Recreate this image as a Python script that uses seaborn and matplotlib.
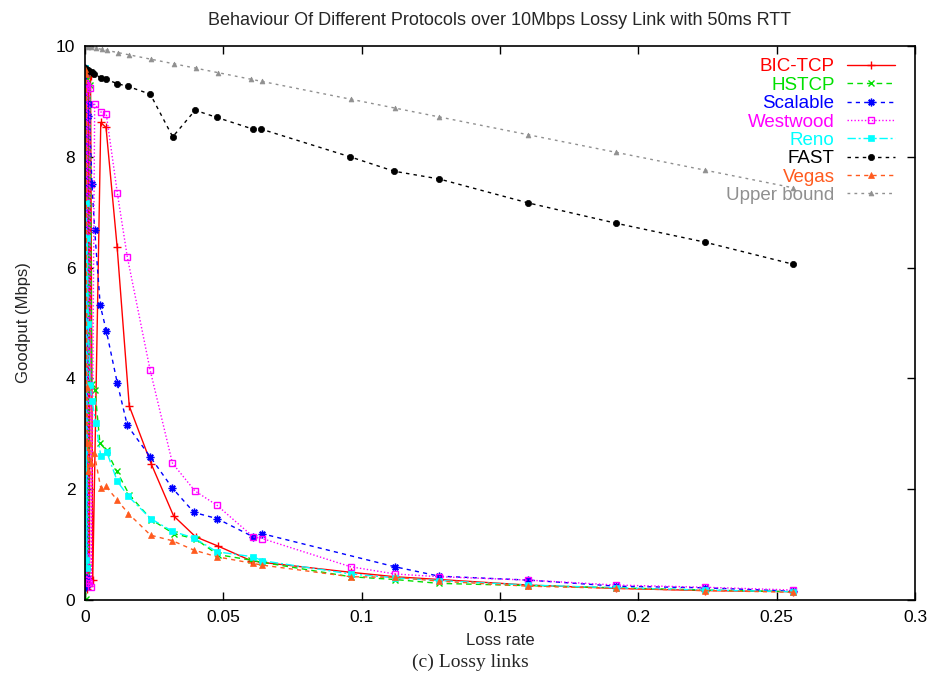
import matplotlib
matplotlib.use("Agg")
import matplotlib.pyplot as plt
import seaborn as sns
import pandas as pd

# ---------------- data ----------------
bic_x = [0, 0.0002, 0.0004, 0.0006, 0.0008, 0.001, 0.0013, 0.0016, 0.002, 0.0028, 0.0057, 0.0076,
         0.0116, 0.016, 0.024, 0.032, 0.04, 0.048, 0.06, 0.064, 0.096, 0.112, 0.128, 0.16, 0.192,
         0.224, 0.256]
bic_y = [9.6, 0.3, 9.58, 0.2, 9.55, 0.4, 9.5, 0.25, 9.45, 0.36, 8.62, 8.53,
         6.38, 3.5, 2.45, 1.52, 1.14, 0.975, 0.71, 0.68, 0.5, 0.42, 0.37, 0.27, 0.21,
         0.17, 0.15]

hstcp_x = [0, 0.0002, 0.0004, 0.0006, 0.0009, 0.0012, 0.0018, 0.0024, 0.0036, 0.0054, 0.0078, 0.0114,
           0.016, 0.024, 0.032, 0.04, 0.048, 0.06, 0.064, 0.096, 0.112, 0.128, 0.16, 0.192, 0.224, 0.256]
hstcp_y = [9.6, 0.02, 9.5, 0.45, 9.4, 0.6, 9.3, 3.9, 3.79, 2.83, 2.7, 2.33,
           1.9, 1.45, 1.2, 1.1, 0.82, 0.72, 0.68, 0.42, 0.37, 0.3, 0.26, 0.22, 0.18, 0.15]

scal_x = [0, 0.0002, 0.0004, 0.0006, 0.001, 0.0015, 0.0025, 0.0035, 0.0055, 0.0077, 0.0117, 0.0153,
          0.0235, 0.0316, 0.0394, 0.0477, 0.0608, 0.0638, 0.112, 0.128, 0.16, 0.192, 0.224, 0.256]
scal_y = [9.6, 0.24, 9.5, 0.4, 8.73, 8.95, 7.51, 6.68, 5.32, 4.86, 3.91, 3.15,
          2.59, 2.02, 1.58, 1.47, 1.14, 1.2, 0.6, 0.43, 0.36, 0.25, 0.22, 0.16]

west_x = [0, 0.0002, 0.0004, 0.0006, 0.0009, 0.0013, 0.0017, 0.0023, 0.0035, 0.0057, 0.0077, 0.0117,
          0.0153, 0.0235, 0.0316, 0.0397, 0.0477, 0.0608, 0.064, 0.096, 0.112, 0.128, 0.16, 0.192,
          0.224, 0.256]
west_y = [9.34, 0.78, 9.3, 0.36, 9.28, 0.3, 9.25, 0.24, 8.95, 8.81, 8.77, 7.34,
          6.19, 4.16, 2.47, 1.97, 1.71, 1.14, 1.11, 0.6, 0.47, 0.42, 0.36, 0.27,
          0.23, 0.18]

reno_x = [0, 0.0002, 0.0004, 0.0006, 0.0008, 0.0012, 0.0018, 0.0026, 0.0039, 0.0057, 0.0078,
          0.0117, 0.0157, 0.0237, 0.0316, 0.0394, 0.0477, 0.0608, 0.064, 0.096, 0.112, 0.128,
          0.16, 0.192, 0.224, 0.256]
reno_y = [9.6, 0.72, 7.16, 0.57, 6.53, 4.98, 3.88, 3.59, 3.19, 2.6, 2.68,
          2.14, 1.87, 1.47, 1.24, 1.12, 0.87, 0.78, 0.71, 0.47, 0.4, 0.35,
          0.27, 0.22, 0.18, 0.15]

fast_x = [0, 0.0005, 0.001, 0.0015, 0.0024, 0.0033, 0.0057, 0.0076, 0.0117, 0.0156, 0.0236,
          0.0317, 0.0398, 0.0477, 0.0607, 0.0637, 0.0958, 0.1117, 0.128, 0.16, 0.192, 0.224, 0.256]
fast_y = [9.6, 9.58, 9.57, 9.55, 9.53, 9.49, 9.43, 9.40, 9.32, 9.27, 9.13,
          8.36, 8.84, 8.71, 8.50, 8.50, 8.0, 7.74, 7.6, 7.17, 6.8, 6.46, 6.06]

vegas_x = [0, 0.0002, 0.0004, 0.0006, 0.001, 0.0015, 0.002, 0.0033, 0.0057, 0.0076, 0.0117, 0.0157,
           0.0237, 0.0316, 0.0394, 0.0477, 0.0608, 0.064, 0.096, 0.112, 0.128, 0.16, 0.192,
           0.224, 0.256]
vegas_y = [9.58, 2.83, 9.5, 3.84, 2.33, 2.83, 2.47, 2.66, 2.02, 2.05, 1.8, 1.56,
           1.17, 1.07, 0.9, 0.78, 0.66, 0.63, 0.42, 0.41, 0.34, 0.25, 0.21,
           0.17, 0.14]

upper_x = [0, 0.001, 0.002, 0.004, 0.006, 0.008, 0.012, 0.016, 0.024, 0.032, 0.04, 0.048,
           0.06, 0.064, 0.096, 0.112, 0.128, 0.16, 0.192, 0.224, 0.256]
upper_y = [10, 9.99, 9.98, 9.96, 9.94, 9.92, 9.88, 9.84, 9.76, 9.68, 9.6, 9.52,
           9.4, 9.36, 9.04, 8.88, 8.72, 8.4, 8.08, 7.76, 7.44]

x_ticks = [0, 0.05, 0.1, 0.15, 0.2, 0.25, 0.3]
x_tick_labels = ["0", "0.05", "0.1", "0.15", "0.2", "0.25", "0.3"]
y_ticks = [0, 2, 4, 6, 8, 10]
y_tick_labels = ["0", "2", "4", "6", "8", "10"]

title = "Behaviour Of Different Protocols over 10Mbps Lossy Link with 50ms RTT"
x_label = "Loss rate"
y_label = "Goodput (Mbps)"
caption = "(c) Lossy links"

# ---------------- styling ----------------
sns.set_style("ticks")
plt.rcParams["font.family"] = ["Liberation Sans", "DejaVu Sans"]


def style(color, ls, marker, ms, mew=1.0, filled=False, face=None):
    return dict(color=color, linestyle=ls, marker=marker, markersize=ms,
                markeredgewidth=mew, markeredgecolor=color,
                markerfacecolor=(face if face is not None else (color if filled else "none")))


series = [
    ("BIC-TCP", bic_x, bic_y, style("#FF0000", "-", "+", 6, 1.0)),
    ("HSTCP", hstcp_x, hstcp_y, style("#00E000", (0, (4, 3)), "x", 4.5, 1.0)),
    ("Scalable", scal_x, scal_y, style("#0000FF", (0, (3, 3)), (8, 2, 0), 5.5, 1.0)),
    ("Westwood", west_x, west_y, style("#FF00FF", (0, (1, 1.5)), "s", 5, 1.0)),
    ("Reno", reno_x, reno_y, style("#00FFFF", (0, (6, 2, 1.5, 2)), "s", 5, 0.5, filled=True)),
    ("FAST", fast_x, fast_y, style("#000000", (0, (2.5, 3)), "o", 4.5, 0.5, filled=True)),
    ("Vegas", vegas_x, vegas_y, style("#FF5A1E", (0, (3, 3)), "^", 5, 0.5, filled=True)),
    ("Upper bound", upper_x, upper_y, style("#909090", (0, (2, 3)), "^", 3.5, 0.5, filled=True)),
]

fig = plt.figure(figsize=(9.35, 6.79), dpi=100)
ax = fig.add_axes([85 / 935, 1 - 600 / 679, 830 / 935, 554 / 679])

for name, xs, ys, st in series:
    df = pd.DataFrame({"x": xs, "y": ys})
    sns.lineplot(data=df, x="x", y="y", ax=ax, sort=False, estimator=None,
                 label=name, linewidth=1.0, **st)

ax.set_xlim(0, 0.3)
ax.set_ylim(0, 10)
ax.set_xticks(x_ticks)
ax.set_xticklabels(x_tick_labels)
ax.set_yticks(y_ticks)
ax.set_yticklabels(y_tick_labels)
ax.tick_params(direction="in", length=6, width=1.0, top=True, right=True,
               labelsize=12.5, colors="black", pad=7)
for sp in ax.spines.values():
    sp.set_visible(True)
    sp.set_color("black")
    sp.set_linewidth(1.2)

ax.set_xlabel(x_label, fontsize=12, labelpad=6)
ax.set_ylabel(y_label, fontsize=12, labelpad=18)
ax.set_title(title, fontsize=13, pad=15)

leg = ax.legend(loc="upper right", bbox_to_anchor=(0.99, 0.998), frameon=False,
                markerfirst=False, labelcolor="linecolor", fontsize=13.5,
                handlelength=2.6, handletextpad=0.65, labelspacing=0.065,
                borderaxespad=0.2, numpoints=1)

fig.text(470 / 935, 1 - 662 / 679, caption, ha="center", va="center",
         fontsize=14, family=["Liberation Serif", "DejaVu Serif"])

fig.savefig("out.png", dpi=100)
